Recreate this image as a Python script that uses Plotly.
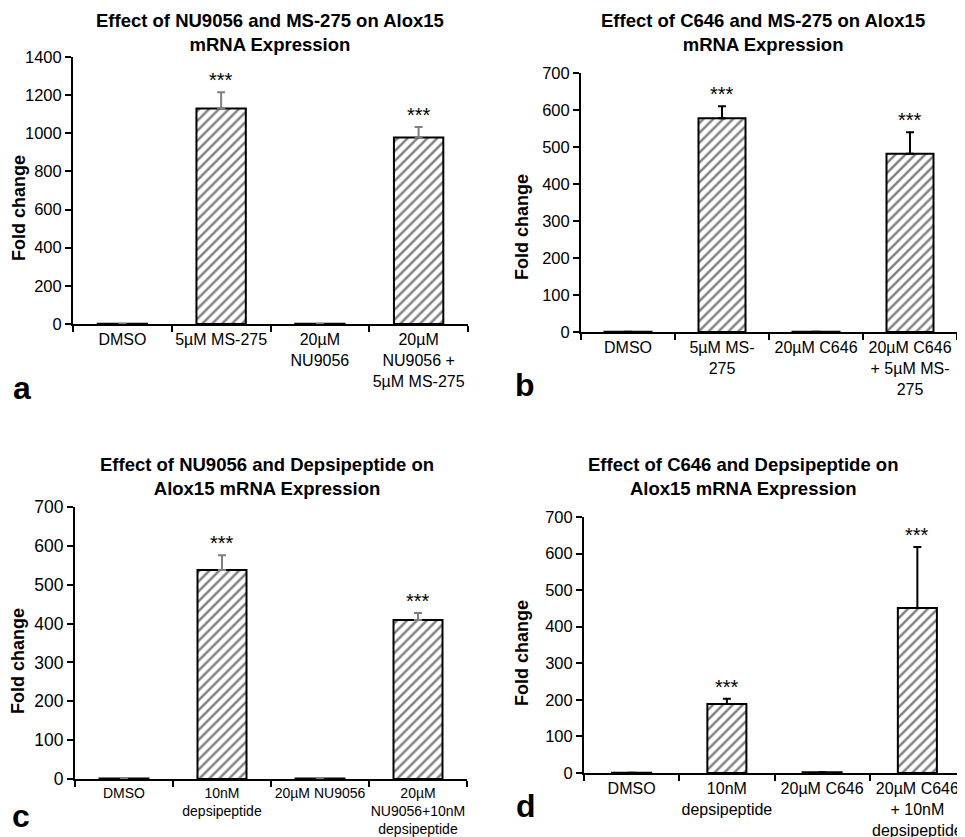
import plotly.graph_objects as go

FONT = "Liberation Sans, Arial, sans-serif"

# ---- data ----
cats_a = ["DMSO", "5µM MS-275", "20µM<br>NU9056", "20µM<br>NU9056 +<br>5µM MS-275"]
vals_a = [1, 1130, 1, 978]
err_a = [0, 85, 0, 55]
sig_a = ["", "***", "", "***"]

cats_b = ["DMSO", "5µM MS-<br>275", "20µM C646", "20µM C646<br>+ 5µM MS-<br>275"]
vals_b = [1, 578, 1, 482]
err_b = [0, 32, 0, 58]
sig_b = ["", "***", "", "***"]

cats_c = ["DMSO", "10nM<br>depsipeptide", "20µM NU9056", "20µM<br>NU9056+10nM<br>depsipeptide"]
vals_c = [1, 538, 1, 409]
err_c = [0, 38, 0, 18]
sig_c = ["", "***", "", "***"]

cats_d = ["DMSO", "10nM<br>depsipeptide", "20µM C646", "20µM C646<br>+ 10nM<br>depsipeptide"]
vals_d = [1, 189, 2, 451]
err_d = [0, 14, 0, 167]
sig_d = ["", "***", "", "***"]

titles = [
    "Effect of NU9056 and MS-275 on Alox15<br>mRNA Expression",
    "Effect of C646 and MS-275 on Alox15<br>mRNA Expression",
    "Effect of NU9056 and Depsipeptide on<br>Alox15 mRNA Expression",
    "Effect of C646 and Depsipeptide on<br>Alox15 mRNA Expression",
]
letters = ["a", "b", "c", "d"]
y_max = [1400, 700, 700, 700]
y_step = [200, 100, 100, 100]

# page body has an 8px margin; size the figure so it fills the 965x837 window
OFF = 8
W, H = 965 - OFF, 837 - OFF
def px(x): return (x - OFF) / W
def py(y): return 1 - (y - OFF) / H

panels = [
    dict(cats=cats_a, vals=vals_a, err=err_a, sig=sig_a, xd=(73, 468), yd=(57, 324), ecol="#7f7f7f",
         bw=0.5, xfs=16, yfs=16.5, title_xy=(270, 33), letter_xy=(22, 388), ytitle_xy=(19, 208)),
    dict(cats=cats_b, vals=vals_b, err=err_b, sig=sig_b, xd=(581, 957), yd=(73, 332), ecol="#000000",
         bw=0.5, xfs=16, yfs=16.5, title_xy=(763, 33), letter_xy=(525, 385), ytitle_xy=(522, 227)),
    dict(cats=cats_c, vals=vals_c, err=err_c, sig=sig_c, xd=(75, 467), yd=(507, 779), ecol="#7f7f7f",
         bw=0.5, xfs=14, yfs=17.5, title_xy=(267, 476), letter_xy=(21, 816), ytitle_xy=(18, 661)),
    dict(cats=cats_d, vals=vals_d, err=err_d, sig=sig_d, xd=(584, 965), yd=(517, 773), ecol="#000000",
         bw=0.41, xfs=16, yfs=16.5, title_xy=(743, 476), letter_xy=(526, 806), ytitle_xy=(522, 653)),
]

fig = go.Figure()
annotations = []
for i, p in enumerate(panels):
    n = "" if i == 0 else str(i + 1)
    fig.add_trace(go.Bar(
        x=p["cats"], y=p["vals"], width=p["bw"],
        xaxis="x" + n, yaxis="y" + n,
        marker=dict(color="white", line=dict(color="black", width=2),
                    pattern=dict(shape="/", fgcolor="black", bgcolor="white", size=7, solidity=0.35)),
        error_y=dict(type="data", array=p["err"], arrayminus=[0] * 4, symmetric=False,
                     color=p["ecol"], thickness=2, width=4),
        showlegend=False,
    ))
    fig.update_layout({
        "xaxis" + n: dict(domain=[max(0, px(p["xd"][0])), min(1, px(p["xd"][1]))], anchor="y" + n,
                          type="category", range=[-0.5, 3.5], tickson="boundaries",
                          ticks="outside", ticklen=6, tickwidth=1.5, tickcolor="black",
                          showline=True, linecolor="black", linewidth=2, tickangle=0,
                          tickfont=dict(family=FONT, size=p["xfs"], color="black"),
                          showgrid=False, fixedrange=True, automargin=False),
        "yaxis" + n: dict(domain=[py(p["yd"][1]), py(p["yd"][0])], anchor="x" + n,
                          range=[0, y_max[i]], dtick=y_step[i], tick0=0,
                          ticks="outside", ticklen=6, tickwidth=1.5, tickcolor="black",
                          showline=True, linecolor="black", linewidth=2,
                          tickfont=dict(family=FONT, size=p["yfs"], color="black"),
                          showgrid=False, zeroline=False, fixedrange=True, automargin=False),
    })
    for c, v, e, s in zip(p["cats"], p["vals"], p["err"], p["sig"]):
        if s:
            annotations.append(dict(x=c, y=v + e, xref="x" + n, yref="y" + n, text=s,
                                    showarrow=False, yanchor="bottom", yshift=-1,
                                    font=dict(family=FONT, size=20, color="black")))
    annotations.append(dict(x=px(p["title_xy"][0]), y=py(p["title_xy"][1]), xref="paper", yref="paper",
                            text="<b>" + titles[i] + "</b>", showarrow=False,
                            xanchor="center", yanchor="middle",
                            font=dict(family=FONT, size=18.5, color="black")))
    annotations.append(dict(x=px(p["letter_xy"][0]), y=py(p["letter_xy"][1]), xref="paper", yref="paper",
                            text="<b>" + letters[i] + "</b>", showarrow=False,
                            xanchor="center", yanchor="middle",
                            font=dict(family=FONT, size=32, color="black")))
    annotations.append(dict(x=px(p["ytitle_xy"][0]), y=py(p["ytitle_xy"][1]),
                            xref="paper", yref="paper", text="<b>Fold change</b>", textangle=-90,
                            showarrow=False, xanchor="center", yanchor="middle",
                            font=dict(family=FONT, size=18, color="black")))

fig.update_layout(width=W, height=H, margin=dict(l=0, r=0, t=0, b=0, autoexpand=False),
                  paper_bgcolor="white", plot_bgcolor="white",
                  annotations=annotations, bargap=0.5)
fig.write_html("out.html")
